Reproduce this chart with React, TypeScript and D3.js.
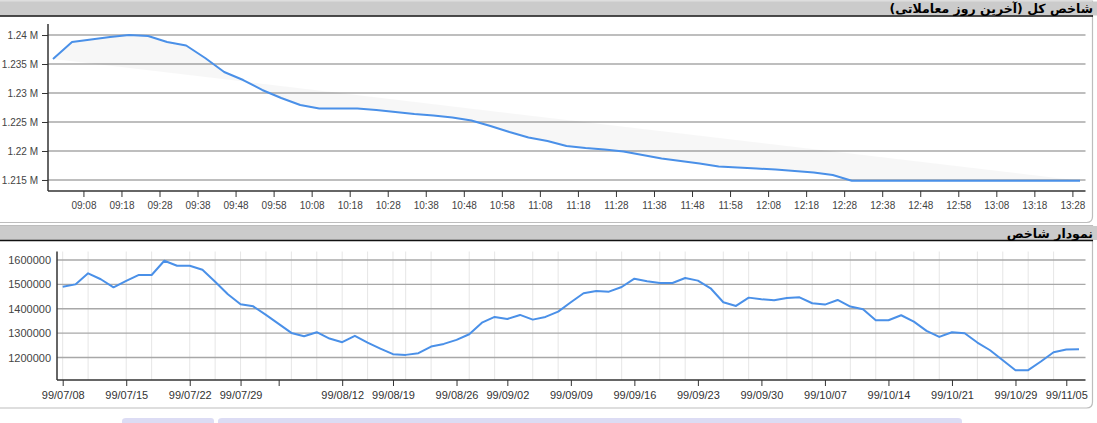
import { useEffect, useRef } from 'react';
import * as d3 from "d3";

// intraday index (last trading day), 5-minute samples
const intradayTimes = [
  "09:00", "09:05", "09:10", "09:15", "09:20", "09:25", "09:30", "09:35", "09:40", "09:45",
  "09:50", "09:55", "10:00", "10:05", "10:10", "10:15", "10:20", "10:25", "10:30", "10:35",
  "10:40", "10:45", "10:50", "10:55", "11:00", "11:05", "11:10", "11:15", "11:20", "11:25",
  "11:30", "11:35", "11:40", "11:45", "11:50", "11:55", "12:00", "12:05", "12:10", "12:15",
  "12:20", "12:25", "12:30", "12:35", "12:40", "12:45", "12:50", "12:55", "13:00", "13:05",
  "13:10", "13:15", "13:20", "13:25", "13:30",
];
const intradayValues = [
  1235860, 1238790, 1239220, 1239650, 1240000, 1239830, 1238790, 1238190, 1236030, 1233620,
  1232240, 1230520, 1229140, 1227930, 1227330, 1227330, 1227330, 1227070, 1226720, 1226380,
  1226120, 1225780, 1225260, 1224310, 1223280, 1222330, 1221720, 1220860, 1220520, 1220260,
  1219910, 1219310, 1218710, 1218280, 1217840, 1217330, 1217150, 1216980, 1216810, 1216550,
  1216290, 1215860, 1214880, 1214880, 1214880, 1214880, 1214880, 1214880, 1214880, 1214880,
  1214880, 1214880, 1214880, 1214880, 1214880,
];
const intradayTicks = [
  "09:08", "09:18", "09:28", "09:38", "09:48", "09:58", "10:08", "10:18", "10:28", "10:38",
  "10:48", "10:58", "11:08", "11:18", "11:28", "11:38", "11:48", "11:58", "12:08", "12:18",
  "12:28", "12:38", "12:48", "12:58", "13:08", "13:18", "13:28",
];
const intradayYTicks = [1215000, 1220000, 1225000, 1230000, 1235000, 1240000];

// daily index history (one value per trading day)
const dailyValues = [
  1490700, 1500000, 1545500, 1521000, 1488000, 1514000, 1538600, 1538600, 1597000, 1576600,
  1576600, 1560000, 1511000, 1459500, 1418500, 1410000, 1374800, 1338000, 1301000, 1287600,
  1304000, 1278000, 1263000, 1289000, 1261500, 1237000, 1213800, 1211000, 1218000, 1245000,
  1256000, 1272400, 1295700, 1343000, 1366600, 1358400, 1374800, 1355600, 1366600, 1388400,
  1426700, 1463500, 1473000, 1470200, 1489400, 1523500, 1512600, 1505800, 1505800, 1526300,
  1515400, 1484000, 1426700, 1411600, 1445700, 1438800, 1434800, 1444400, 1447000, 1422600,
  1417100, 1436200, 1409000, 1398000, 1353000, 1353000, 1373500, 1347500, 1309300, 1284700,
  1303800, 1299800, 1261500, 1230000, 1189300, 1148300, 1148300, 1183700, 1222000, 1232700,
  1234300,
];
const dailyTickIdx = [0, 5, 10, 14, 17, 22, 26, 31, 35, 40, 45, 50, 55, 60, 65, 70, 75, 79];
const dailyTickLabels = [
  "99/07/08", "99/07/15", "99/07/22", "99/07/29", "", "99/08/12", "99/08/19", "99/08/26",
  "99/09/02", "99/09/09", "99/09/16", "99/09/23", "99/09/30", "99/10/07", "99/10/14",
  "99/10/21", "99/10/29", "99/11/05",
];
const dailyGridIdx = [
  0, 2, 5, 7, 10, 12, 14, 16, 18, 20, 22, 24, 26, 27, 29, 32, 34, 37, 39, 42, 44, 47, 49,
  52, 54, 57, 59, 62, 64, 67, 69, 72, 74, 76, 78,
];
const dailyYTicks = [1200000, 1300000, 1400000, 1500000, 1600000];

const title1 = "شاخص کل (آخرین روز معاملاتی)";
const title2 = "نمودار شاخص";

export default function App() {
  const chartRef = useRef<SVGSVGElement>(null);

  useEffect(() => {
    if (!chartRef.current) return;
    d3.select(chartRef.current).selectAll("*").remove();

    const width = 1097;
    const height = 423;
    const svg = d3.select(chartRef.current)
      .attr("width", width)
      .attr("height", height)
      .attr("viewBox", [0, 0, width, height]);

    const tickFont = "Arial, 'Liberation Sans', sans-serif";
    const titleFont = "Tahoma, 'DejaVu Sans', sans-serif";
    const lineColor = "#4a90e8";

    // panel frames + headers
    const panel = (top: number, bottom: number, title: string) => {
      svg.append("path")
        .attr("d", `M0,${top} H1092.5 V${bottom - 6} Q1092.5,${bottom} 1086.5,${bottom} H0`)
        .attr("fill", "#fff")
        .attr("stroke", "#bdbdbd")
        .attr("stroke-width", 1.2);
      svg.append("rect")
        .attr("x", 0).attr("y", top + 0.5)
        .attr("width", width).attr("height", 14)
        .attr("fill", "#cbcbcb");
      svg.append("line")
        .attr("x1", 0).attr("x2", 1093)
        .attr("y1", top + 15).attr("y2", top + 15)
        .attr("stroke", "#111").attr("stroke-width", 1.5);
      svg.append("text")
        .attr("x", 1093).attr("y", top + 12)
        .attr("text-anchor", "start")
        .attr("direction", "rtl")
        .attr("font-family", titleFont)
        .attr("font-size", 12.5)
        .attr("font-weight", "bold")
        .attr("fill", "#000")
        .text(title);
    };
    panel(1, 222.5, title1);
    panel(225.5, 408, title2);

    // ---------------- top chart ----------------
    const parse = d3.timeParse("%H:%M");
    const tData = intradayTimes.map((t, i) => ({ t: parse(t) as Date, v: intradayValues[i] }));
    const x1 = d3.scaleTime()
      .domain([parse("09:00") as Date, parse("13:30") as Date])
      .range([53, 1080]);
    const y1 = d3.scaleLinear()
      .domain([1213100, 1241900])
      .range([191, 24]);

    const g1 = svg.append("g");
    g1.append("g")
      .selectAll("line")
      .data(intradayYTicks)
      .join("line")
      .attr("x1", 48).attr("x2", 1085.5)
      .attr("y1", d => y1(d)).attr("y2", d => y1(d))
      .attr("stroke", "#a8a8a8").attr("stroke-width", 1.4);

    g1.append("path")
      .datum(tData)
      .attr("fill", "#000")
      .attr("fill-opacity", 0.03)
      .attr("stroke", lineColor)
      .attr("stroke-width", 2)
      .attr("stroke-linejoin", "round")
      .attr("d", d3.line<{ t: Date; v: number }>().x(d => x1(d.t)).y(d => y1(d.v)));

    g1.append("g")
      .attr("transform", "translate(48,0)")
      .call(d3.axisLeft(y1).tickValues(intradayYTicks).tickSize(6).tickPadding(4)
        .tickFormat(d => `${+((d as number) / 1e6).toFixed(3)} M`))
      .call(g => g.select(".domain").attr("d", "M0,24V191").attr("stroke", "#333").attr("stroke-width", 1.5))
      .call(g => g.selectAll(".tick line").attr("stroke", "#333"))
      .call(g => g.selectAll("text").attr("font-family", tickFont).attr("font-size", 10).attr("fill", "#444"));

    g1.append("g")
      .attr("transform", "translate(0,191)")
      .call(d3.axisBottom(x1).tickValues(intradayTicks.map(t => parse(t) as Date)).tickSize(6).tickPadding(5)
        .tickFormat(d3.timeFormat("%H:%M") as any))
      .call(g => g.select(".domain").attr("d", "M48,0H1085.5").attr("stroke", "#333").attr("stroke-width", 1.5))
      .call(g => g.selectAll(".tick line").attr("stroke", "#333"))
      .call(g => g.selectAll("text").attr("font-family", tickFont).attr("font-size", 10).attr("fill", "#444"));

    // ---------------- bottom chart ----------------
    const x2 = d3.scaleLinear().domain([0, dailyValues.length - 1]).range([62.7, 1079]);
    const y2 = d3.scaleLinear().domain([1108000, 1634000]).range([380, 251.7]);

    const g2 = svg.append("g");
    g2.append("g")
      .selectAll("line")
      .data(dailyGridIdx)
      .join("line")
      .attr("x1", d => x2(d)).attr("x2", d => x2(d))
      .attr("y1", 251.5).attr("y2", 380)
      .attr("stroke", "#e6e6e6").attr("stroke-width", 1);

    g2.append("g")
      .selectAll("line")
      .data(dailyYTicks)
      .join("line")
      .attr("x1", 57).attr("x2", 1085.5)
      .attr("y1", d => y2(d)).attr("y2", d => y2(d))
      .attr("stroke", "#a8a8a8").attr("stroke-width", 1.4);

    g2.append("path")
      .datum(dailyValues)
      .attr("fill", "none")
      .attr("stroke", lineColor)
      .attr("stroke-width", 2)
      .attr("stroke-linejoin", "round")
      .attr("d", d3.line<number>().x((_, i) => x2(i)).y(d => y2(d)));

    g2.append("g")
      .attr("transform", "translate(57,0)")
      .call(d3.axisLeft(y2).tickValues(dailyYTicks).tickSize(0).tickPadding(6).tickFormat(d3.format("d")))
      .call(g => g.select(".domain").attr("d", "M0,251.5V380").attr("stroke", "#333").attr("stroke-width", 1.5))
      .call(g => g.selectAll("text").attr("font-family", tickFont).attr("font-size", 11).attr("fill", "#444"));

    g2.append("g")
      .attr("transform", "translate(0,380)")
      .call(d3.axisBottom(x2).tickValues(dailyTickIdx).tickSize(6).tickPadding(5)
        .tickFormat((_, i) => dailyTickLabels[i]))
      .call(g => g.select(".domain").attr("d", "M57,0H1085.5").attr("stroke", "#333").attr("stroke-width", 1.5))
      .call(g => g.selectAll(".tick line").attr("stroke", "#333"))
      .call(g => g.selectAll("text").attr("font-family", tickFont).attr("font-size", 11).attr("fill", "#333"));

    // tab strip peeking at the bottom edge
    svg.append("path")
      .attr("d", "M122,423 V421 Q122,418 126,418 H211 Q214,418 214,421 V423 Z")
      .attr("fill", "#dcdcf4");
    svg.append("path")
      .attr("d", "M218,423 V421 Q218,418 222,418 H958 Q962,418 962,421 V423 Z")
      .attr("fill", "#dcdcf4");
  }, []);

  return (
    <div style={{ position: "fixed", left: 0, top: 0, width: 1097, height: 423, background: "#fff" }}>
      <svg ref={chartRef}></svg>
    </div>
  );
}
